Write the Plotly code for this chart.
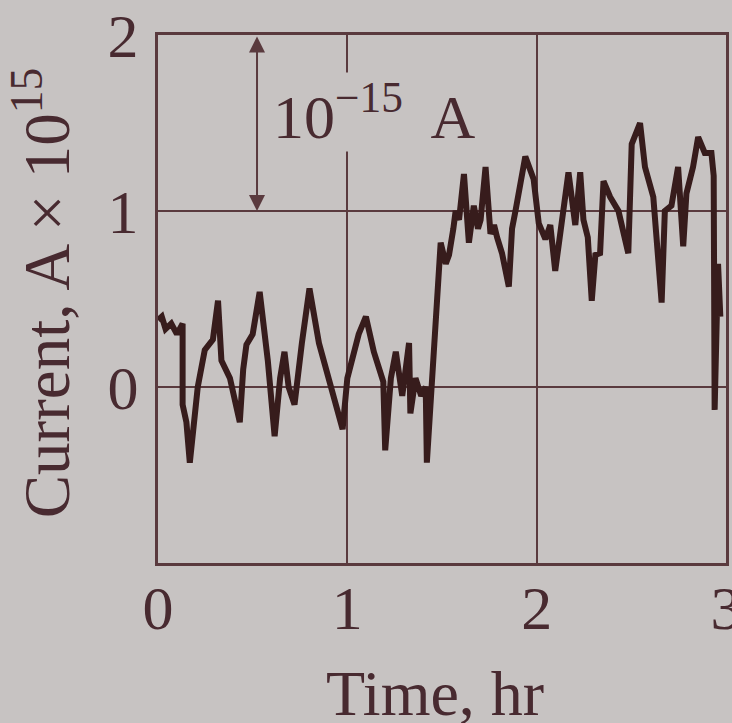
import plotly.graph_objects as go

time_hr = [0.0, 0.02, 0.04, 0.07, 0.10, 0.13, 0.13, 0.15, 0.168, 0.21, 0.247, 0.29, 0.317, 0.335,
           0.38, 0.432, 0.45, 0.467, 0.50, 0.537, 0.58, 0.616, 0.645, 0.668, 0.69, 0.721, 0.76,
           0.80, 0.85, 0.905, 0.975, 1.0, 1.019, 1.06, 1.098, 1.14, 1.19, 1.20, 1.23, 1.256,
           1.29, 1.326, 1.333, 1.36, 1.39, 1.414, 1.42, 1.44, 1.47, 1.493, 1.52, 1.537, 1.56,
           1.572, 1.59, 1.616, 1.63, 1.642, 1.668, 1.69, 1.704, 1.73, 1.756, 1.775, 1.791,
           1.817, 1.853, 1.87, 1.888, 1.94, 1.984, 2.011, 2.046, 2.072, 2.098, 2.133, 2.168,
           2.204, 2.23, 2.247, 2.27, 2.291, 2.31, 2.335, 2.353, 2.388, 2.432, 2.484, 2.502,
           2.546, 2.572, 2.616, 2.66, 2.677, 2.712, 2.747, 2.774, 2.791, 2.826, 2.853, 2.888,
           2.923, 2.935, 2.94, 2.958, 2.97]
current = [0.38, 0.40, 0.33, 0.36, 0.30, 0.36, -0.10, -0.20, -0.43, 0.0, 0.21, 0.27, 0.49, 0.15,
           0.05, -0.20, 0.10, 0.24, 0.30, 0.54, 0.15, -0.28, 0.05, 0.20, 0.0, -0.10, 0.25,
           0.56, 0.25, 0.02, -0.24, 0.05, 0.14, 0.30, 0.40, 0.20, 0.03, -0.36, 0.05, 0.20,
           -0.05, 0.25, -0.15, 0.05, -0.05, 0.0, -0.43, -0.05, 0.45, 0.82, 0.70, 0.75, 0.90,
           1.0, 0.95, 1.21, 1.0, 0.82, 1.03, 0.90, 0.95, 1.25, 0.87, 0.92, 0.85,
           0.76, 0.57, 0.90, 1.0, 1.31, 1.18, 0.93, 0.84, 0.92, 0.66, 0.92, 1.22,
           0.92, 1.22, 0.95, 0.85, 0.49, 0.75, 0.76, 1.17, 1.08, 1.0, 0.76, 1.38,
           1.50, 1.25, 1.08, 0.48, 1.0, 1.03, 1.25, 0.80, 1.10, 1.25, 1.42, 1.33,
           1.33, 1.20, -0.13, 0.70, 0.40]

x_ticks = [0, 1, 2, 3]
y_ticks = [0, 1, 2]

BG = "rgb(199,195,194)"
INK = "rgb(72,42,48)"
LINE = "rgb(55,28,28)"
FRAME = "rgb(90,58,62)"
FONT = "Liberation Serif"

fig = go.Figure()
fig.add_trace(go.Scatter(x=time_hr, y=current, mode="lines",
                         line=dict(color=LINE, width=6), showlegend=False))

fig.update_layout(
    width=732, height=723, autosize=False,
    margin=dict(l=158, r=6, t=35, b=160, autoexpand=False),
    paper_bgcolor=BG, plot_bgcolor=BG,
    font=dict(family=FONT, size=62, color=INK),
    xaxis=dict(range=[0, 3], tickvals=x_ticks, ticktext=[str(v) for v in x_ticks],
               showgrid=True, gridcolor=FRAME, gridwidth=2, zeroline=False,
               showline=True, linecolor=FRAME, linewidth=3, mirror=True,
               ticks="", ticklabelstandoff=-11, ticklabeloverflow="allow",
               automargin=False),
    yaxis=dict(range=[-1, 2], tickvals=y_ticks, ticktext=[str(v) for v in y_ticks],
               showgrid=True, gridcolor=FRAME, gridwidth=2, zeroline=False,
               showline=True, linecolor=FRAME, linewidth=3, mirror=True,
               ticks="", ticklabelstandoff=4, ticklabeloverflow="allow",
               automargin=False),
)

fig.add_annotation(xref="paper", yref="paper", x=0.488, y=-0.247,
                   text="Time, hr", showarrow=False, xanchor="center", yanchor="middle",
                   font=dict(size=64))
fig.add_annotation(xref="paper", yref="paper", x=-0.205, y=0.51,
                   text="Current, A × 10<sup>15</sup>", textangle=-90, showarrow=False,
                   xanchor="center", yanchor="middle", font=dict(size=65))
fig.add_annotation(xref="x", yref="y", x=1.141, y=1.56,
                   text="10<sup>−15</sup>&nbsp; A", showarrow=False,
                   xanchor="center", yanchor="middle", bgcolor=BG, borderpad=0,
                   font=dict(size=62))
fig.add_annotation(xref="x", yref="y", axref="x", ayref="y",
                   x=0.523, y=1.0, ax=0.523, ay=2.0, text="",
                   showarrow=True, arrowhead=2, startarrowhead=2, arrowside="end+start",
                   arrowsize=1.6, startarrowsize=1.6, arrowwidth=2, arrowcolor=FRAME)

fig.write_html(
    "out.html",
    config={"responsive": False, "displayModeBar": False},
    post_script=(
        "document.documentElement.style.overflow='hidden';"
        "document.body.style.overflow='hidden';"
        "document.body.style.margin='0';"
        "document.body.style.background='rgb(199,195,194)';"
    ),
)
